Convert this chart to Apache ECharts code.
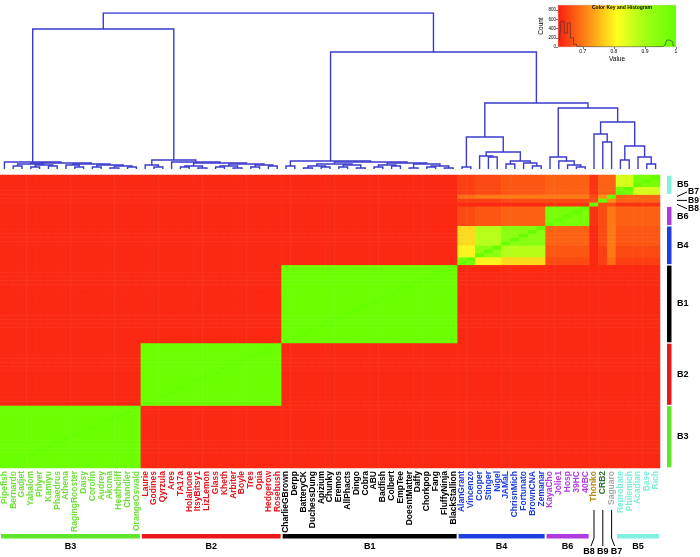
<!DOCTYPE html>
<html>
<head>
<meta charset="utf-8">
<script src="https://cdn.jsdelivr.net/npm/echarts@6/dist/echarts.min.js"></script>
<style>
  html, body { margin: 0; padding: 0; background: #fff; }
  #main { width: 700px; height: 557px; }
</style>
</head>
<body>
<div id="main"></div>
<script>
// leaves, left to right (rows run the same order from bottom to top)
var groupB3 = ['Pipefish','Bernardo','Gadjet','Yahalom','Phlyer','Kamiyu','Phaedrus','Athena','RagingRooster','Daisy','Corofin','Audrey','Akoma','Heathcliff','Chandler','OrangeOswald'];
var groupB2 = ['Laurie','Godines','Qyrzula','Ares','TA17a','HolaInone','ItsyBitsy1','LizLemon','Glass','Kheth','Arbiter','Boyle','Tres','Opia','Hedgerow','Rosebush'];
var groupB1 = ['CharlieGBrown','Derpp','BatteryCK','DuchessDung','Apizium','Chunky','Eremos','AllPhacts','Dingo','Cobra','ABU','Badfish','Colbert','EmpTee','DoesntMatter','Daffy','Chorkpop','Fang','FluffyNinja','BlackStallion'];
var groupB4 = ['AlanGrant','Vincenzo','Cooper','Stinger','Nigel','JAMaL','ChrisnMich','Fortunato','BrownCNA','Zemanar'];
var groupB6 = ['KayaCho','Jolie1','Hosp','39HC','40BC'];
var groupB8 = ['Thonko'];
var groupB9 = ['CRB2'];
var groupB7 = ['Saguaro'];
var groupB5 = ['Reprobate','Philemich','Acadian','Base','Rich'];

// group annotation (bars + labels)
var groupLabels = ['B3','B2','B1','B4','B6','B8','B9','B7','B5'];
var groupStart  = [0, 16, 32, 52, 62, 67, 68, 69, 70];
var groupEnd    = [15, 31, 51, 61, 66, 67, 68, 69, 74];
var barColors   = ['#5ee62a','#e81818','#000000','#1f3de0','#b03ae0','#000','#000','#000','#80f0e0'];
var textColors  = ['#6fe03a','#e8141c','#000000','#1c3ddd','#b53de0','#b58a10','#2e6e2e','#a8a8a8','#7eecd8'];

// similarity between sub-clusters
// order: B3, B2, B1, B4a(AlanGrant,Vincenzo), B4b1(Cooper..Nigel), B4b2(JAMaL..Zemanar), B6, Thonko, CRB2, Saguaro, B5a(Reprobate,Philemich), B5b(Acadian..Rich)
var clusterSizes = [16, 16, 20, 2, 3, 5, 5, 1, 1, 1, 2, 3];
var clusterSim = [
  [0.99,0.63,0.63,0.63,0.63,0.63,0.63,0.63,0.63,0.63,0.63,0.63],
  [0.63,0.99,0.63,0.63,0.63,0.63,0.63,0.63,0.63,0.63,0.63,0.63],
  [0.63,0.63,0.99,0.63,0.63,0.63,0.63,0.63,0.63,0.63,0.63,0.63],
  [0.63,0.63,0.63,0.97,0.80,0.78,0.66,0.63,0.65,0.69,0.65,0.65],
  [0.63,0.63,0.63,0.80,0.93,0.88,0.67,0.63,0.65,0.70,0.66,0.66],
  [0.63,0.63,0.63,0.78,0.88,0.94,0.68,0.63,0.66,0.70,0.67,0.67],
  [0.63,0.63,0.63,0.66,0.67,0.68,0.97,0.64,0.66,0.70,0.68,0.68],
  [0.63,0.63,0.63,0.63,0.63,0.63,0.64,1.00,0.66,0.66,0.64,0.64],
  [0.63,0.63,0.63,0.65,0.65,0.66,0.66,0.66,1.00,0.72,0.68,0.68],
  [0.63,0.63,0.63,0.69,0.70,0.70,0.70,0.66,0.72,1.00,0.68,0.68],
  [0.63,0.63,0.63,0.65,0.66,0.67,0.68,0.64,0.68,0.68,0.97,0.85],
  [0.63,0.63,0.63,0.65,0.66,0.67,0.68,0.64,0.68,0.68,0.85,0.97]
];

// dendrogram: [left, right, height]; numbers are leaf positions
var treeB3 = [0, [[[1,2,3],[[3,4,2],[5,6,3],4],5], [[7,[8,9,2],4], [[10,11,2],[[12,13,1],[14,15,2],3],4],5],6], 7];
var treeB2 = [[16,[17,18,2],4], [19, [[[20,21,2],[22,23,1],3], [[[24,25,2],[26,27,1],3],[[28,29,2],[30,31,3],4],5],6],7], 9];
var treeB1 = [[32,33,3], [[[[34,35,1],[36,37,2],3],[[38,39,2],[40,41,1],4],5], [[[42,43,2],[44,45,3],4],[[46,47,1],[[48,49,2],[50,51,1],3],5],6],7], 8];
var treeB4 = [[52,53,2], [[54,[55,56,12],13], [[57,58,5],[59,[60,61,3],6],8],17], 32];
var treeB6 = [62, [63, [64, [65,66,2], 4], 8], 12];
var treeB897 = [67, [68, 69, 27], 35];
var treeB5 = [[70,71,9], [72,[73,74,5],12], 23];
var tree = [[treeB3, treeB2, 140], [treeB1, [treeB4, [treeB6, [treeB897, treeB5, 47], 61], 66], 117], 156];

// colour key histogram
var histValues = [0.625,0.635,0.645,0.655,0.665,0.675,0.685,0.70,0.75,0.80,0.85,0.90,0.95,0.965,0.975,0.985,0.995];
var histCounts = [150,560,300,520,200,60,15,5,3,3,3,5,10,40,150,110,30];

var colorRamp = ['#fa1c12','#ff8a14','#ffff1e','#9cff16','#66ff00'];

var leaves = [].concat(groupB3, groupB2, groupB1, groupB4, groupB6, groupB8, groupB9, groupB7, groupB5);
var clusterOf = [];
clusterSizes.forEach(function (n, c) { for (var k = 0; k < n; k++) clusterOf.push(c); });
var cells = [];
for (var i = 0; i < leaves.length; i++) {
  for (var j = 0; j < leaves.length; j++) {
    cells.push([i, j, i === j ? 1 : clusterSim[clusterOf[i]][clusterOf[j]]]);
  }
}
var leafGroup = [];
groupStart.forEach(function (s, g) { for (var k = s; k <= groupEnd[g]; k++) leafGroup[k] = g; });

var links = [];
function walk(node) {
  if (typeof node === 'number') return { x: node + 0.5, h: 0 };
  var a = walk(node[0]), b = walk(node[1]), h = node[2];
  links.push({ coords: [[a.x, a.h], [a.x, h], [b.x, h], [b.x, b.h]] });
  return { x: (a.x + b.x) / 2, h: h };
}
walk(tree);

var FONT = 'Liberation Sans, Arial, sans-serif';

function renderGroups(params, api) {
  var g = params.dataIndex;
  var cs = params.coordSys;
  var s = groupStart[g], e = groupEnd[g];
  var size = api.size([1, 1]);
  var ps = api.coord([s, s]), pe = api.coord([e, e]);
  var right = cs.x + cs.width, bottom = cs.y + cs.height;
  var font = 'bold 9px ' + FONT;
  var ch = [];
  if (e > s) {
    var yTop = pe[1] - size[1] / 2, yBot = ps[1] + size[1] / 2;
    var x0 = ps[0] - size[0] / 2, x1 = pe[0] + size[0] / 2;
    ch.push({ type: 'rect', shape: { x: right + 7, y: yTop + 0.7, width: 4.5, height: yBot - yTop - 1.4 }, style: { fill: barColors[g] } });
    ch.push({ type: 'text', x: right + 17, y: (yTop + yBot) / 2, style: { text: groupLabels[g], font: font, fill: '#000', align: 'left', verticalAlign: 'middle' } });
    ch.push({ type: 'rect', shape: { x: x0 + 1, y: bottom + 66, width: x1 - x0 - 2, height: 4.5 }, style: { fill: barColors[g] } });
    ch.push({ type: 'text', x: (x0 + x1) / 2, y: bottom + 79, style: { text: groupLabels[g], font: font, fill: '#000', align: 'center', verticalAlign: 'middle' } });
  } else {
    var shift = { B8: 1, B9: 0, B7: -1 }[groupLabels[g]];
    var cx = ps[0], cy = ps[1];
    ch.push({ type: 'polyline', shape: { points: [[right + 17, cy], [right + 27, cy + shift * 4.5]] }, style: { stroke: '#000', lineWidth: 1, fill: null } });
    ch.push({ type: 'text', x: right + 28, y: cy + shift * 4.5, style: { text: groupLabels[g], font: 'bold 8.5px ' + FONT, fill: '#000', align: 'left', verticalAlign: 'middle' } });
    var bx = { B8: -5, B9: 0, B7: 5 }[groupLabels[g]];
    ch.push({ type: 'polyline', shape: { points: [[cx, bottom + 42], [cx, bottom + 70], [cx + bx * 0.6, bottom + 78]] }, style: { stroke: '#000', lineWidth: 1, fill: null } });
    ch.push({ type: 'text', x: cx + bx, y: bottom + 84, style: { text: groupLabels[g], font: font, fill: '#000', align: 'center', verticalAlign: 'middle' } });
  }
  return { type: 'group', children: ch };
}

var chart = echarts.init(document.getElementById('main'));
chart.setOption({
  animation: false,
  backgroundColor: '#fff',
  title: {
    text: 'Color Key and Histogram', left: 617, top: 0, textAlign: 'center',
    textStyle: { fontSize: 5, fontWeight: 'bold', fontFamily: FONT, color: '#000' }
  },
  grid: [
    { left: 0, top: 13, width: 660, height: 156 },
    { left: 0, top: 175, width: 660, height: 293 },
    { left: 558, top: 5, width: 118, height: 42, show: true, borderColor: '#ccc', borderWidth: 0.5,
      backgroundColor: new echarts.graphic.LinearGradient(0, 0, 1, 0, colorRamp.map(function (c, k) { return { offset: k / (colorRamp.length - 1), color: c }; })) }
  ],
  xAxis: [
    { type: 'value', gridIndex: 0, min: 0, max: 75, show: false },
    { type: 'category', gridIndex: 1, data: leaves, axisLine: { show: false }, axisTick: { show: false },
      axisLabel: { interval: 0, rotate: 90, margin: 3, fontSize: 8.5, fontWeight: 'bold', fontFamily: FONT,
        color: function (v, idx) { return textColors[leafGroup[idx]]; } } },
    { type: 'value', gridIndex: 2, min: 0.62, max: 1, splitLine: { show: false },
      axisLine: { show: false }, axisTick: { show: true, length: 2, customValues: [0.7, 0.8, 0.9, 1], lineStyle: { color: '#000', width: 0.5 } },
      axisLabel: { fontSize: 5, margin: 2, color: '#000', fontFamily: FONT, customValues: [0.7, 0.8, 0.9, 1] },
      name: 'Value', nameLocation: 'middle', nameGap: 9, nameTextStyle: { fontSize: 6.5, fontFamily: FONT, color: '#000' } }
  ],
  yAxis: [
    { type: 'value', gridIndex: 0, min: 0, max: 156, show: false },
    { type: 'category', gridIndex: 1, data: leaves, show: false },
    { type: 'value', gridIndex: 2, min: 0, max: 910, splitLine: { show: false },
      axisLine: { show: false }, axisTick: { show: true, length: 2, customValues: [0, 200, 400, 600, 800], lineStyle: { color: '#000', width: 0.5 } },
      axisLabel: { fontSize: 4.5, margin: 2, color: '#000', fontFamily: FONT, customValues: [0, 200, 400, 600, 800] },
      name: 'Count', nameLocation: 'middle', nameGap: 13, nameRotate: 90, nameTextStyle: { fontSize: 6.5, fontFamily: FONT, color: '#000' } }
  ],
  visualMap: {
    show: false, type: 'continuous', seriesIndex: 1, dimension: 2, min: 0.62, max: 1,
    inRange: { color: colorRamp }
  },
  series: [
    { type: 'lines', coordinateSystem: 'cartesian2d', xAxisIndex: 0, yAxisIndex: 0, polyline: true, silent: true,
      lineStyle: { color: '#3a3acb', width: 1.4, opacity: 1 }, data: links },
    { type: 'heatmap', xAxisIndex: 1, yAxisIndex: 1, data: cells, progressive: 0, silent: true },
    { type: 'custom', xAxisIndex: 1, yAxisIndex: 1, clip: false, silent: true, z: 5,
      data: groupLabels.map(function (l, g) { return [groupStart[g], groupEnd[g]]; }),
      renderItem: renderGroups },
    { type: 'line', xAxisIndex: 2, yAxisIndex: 2, step: 'middle', symbol: 'none', silent: true,
      lineStyle: { color: '#333', width: 0.6 },
      data: histValues.map(function (v, k) { return [v, histCounts[k]]; }) }
  ]
});
</script>
</body>
</html>
